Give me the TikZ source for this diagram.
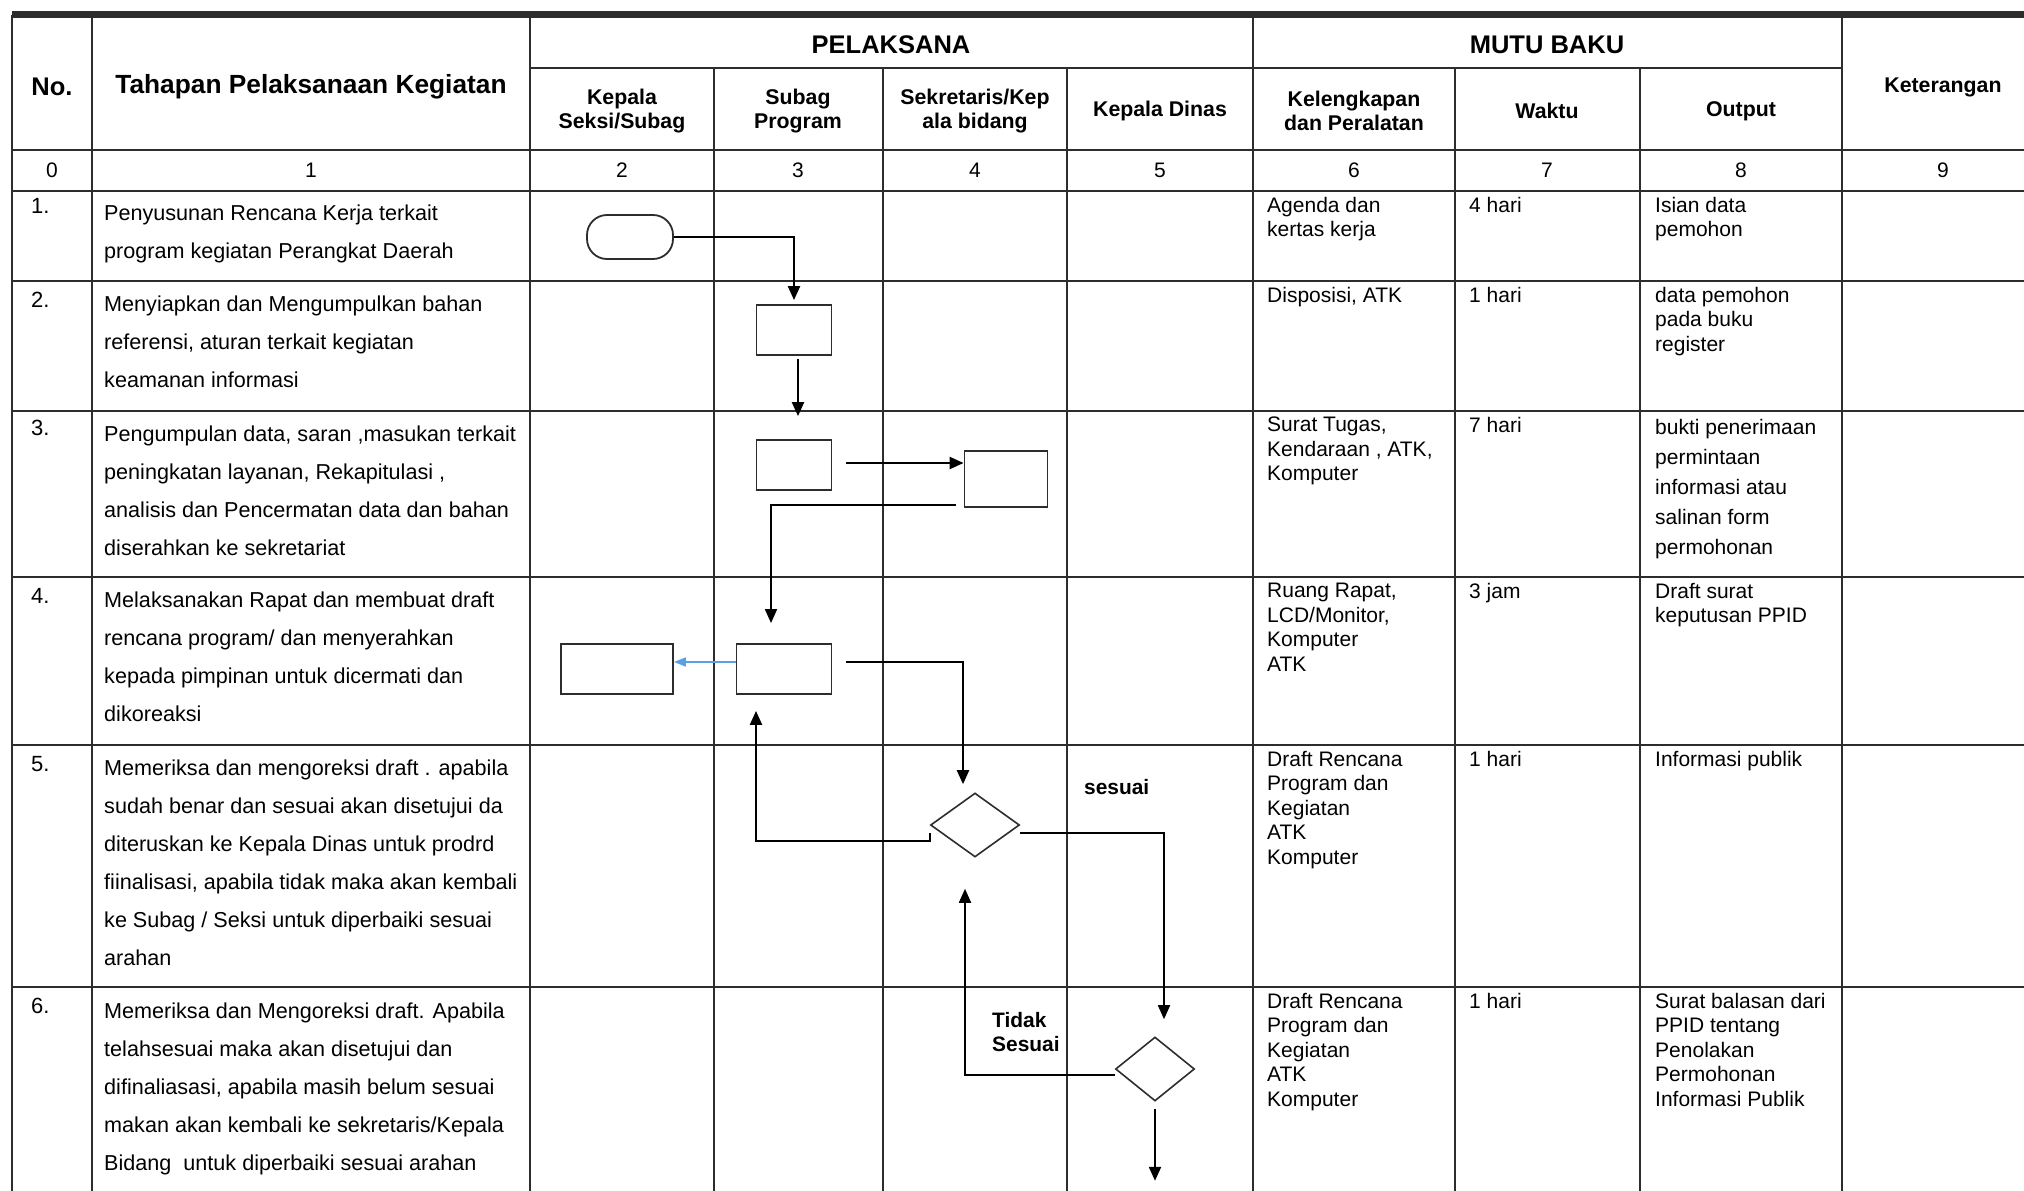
\documentclass[tikz,border=0pt]{standalone}
\usepackage{fontspec}
\setmainfont{Liberation Sans}
\usetikzlibrary{arrows.meta,shapes.geometric}
\definecolor{tinta}{RGB}{45,45,45}
\definecolor{biru}{RGB}{90,160,230}
\tikzset{
  garis/.style={draw=tinta, line width=1.6pt},
  judul/.style={font=\fontsize{25.5}{30}\selectfont\bfseries},
  subjudul/.style={font=\fontsize{21.3}{24}\selectfont\bfseries, align=center},
  angka/.style={font=\fontsize{21}{24}\selectfont},
  nomor/.style={anchor=base west, inner sep=0pt, font=\fontsize{22}{24}\selectfont},
  uraian/.style={anchor=north west, inner sep=0pt, align=left, font=\fontsize{21.6}{37.9}\selectfont},
  rincian/.style={anchor=north west, inner sep=0pt, align=left, font=\fontsize{21}{24.5}\selectfont},
  kotak/.style={draw=tinta, line width=1.8pt, inner sep=0pt, minimum height=50pt},
  terminal/.style={kotak, rounded corners=20pt, minimum width=86pt, minimum height=44pt},
  pilihan/.style={diamond, draw=tinta, line width=1.6pt, inner sep=0pt},
  alur/.style={draw=black, line width=2.2pt, -{Triangle[length=14pt,width=12pt]}},
  alurtipis/.style={alur, line width=1.8pt},
  cabang/.style={font=\fontsize{20.9}{24.5}\selectfont\bfseries, inner sep=0pt, align=left}
}
\begin{document}
\begin{tikzpicture}[x=1pt,y=-1pt]
\useasboundingbox (0,0) rectangle (2024,1191);
% tabel
\draw[tinta, line width=7pt] (12,14) -- (2024,14);
\draw[garis] (12,15) -- (12,1191) (92,15) -- (92,1191) (530,15) -- (530,1191)
  (1253,15) -- (1253,1191) (1842,15) -- (1842,1191);
\draw[garis] (714,68) -- (714,1191) (883,68) -- (883,1191) (1067,68) -- (1067,1191)
  (1455,68) -- (1455,1191) (1640,68) -- (1640,1191);
\draw[garis] (530,68) -- (1842,68);
\draw[garis] (12,150) -- (2024,150) (12,191) -- (2024,191) (12,281) -- (2024,281)
  (12,411) -- (2024,411) (12,577) -- (2024,577) (12,745) -- (2024,745) (12,987) -- (2024,987);

% kepala tabel
\node[judul] (hno) at (52,87) {No.};
\node[judul, font=\fontsize{26.3}{30}\selectfont\bfseries] (htahap) at (311,87) {Tahapan Pelaksanaan Kegiatan};
\node[judul] (hpel) at (891,45) {PELAKSANA};
\node[judul] (hmutu) at (1547,45) {MUTU BAKU};
\node[subjudul] (hkasi) at (622,111) {Kepala\\Seksi/Subag};
\node[subjudul] (hsubag) at (798,111) {Subag\\Program};
\node[subjudul] (hsekre) at (975,111) {Sekretaris/Kep\\ala bidang};
\node[subjudul] (hkadis) at (1160,111) {Kepala Dinas};
\node[subjudul] (hleng) at (1354,111) {Kelengkapan\\dan Peralatan};
\node[subjudul] (hwaktu) at (1547,111) {Waktu};
\node[subjudul] (hout) at (1741,111) {Output};
\node[subjudul] (hket) at (1943,87) {Keterangan};

\node[angka] (k0) at (52,170) {0};
\node[angka] (k1) at (311,170) {1};
\node[angka] (k2) at (622,170) {2};
\node[angka] (k3) at (798,170) {3};
\node[angka] (k4) at (975,170) {4};
\node[angka] (k5) at (1160,170) {5};
\node[angka] (k6) at (1354,170) {6};
\node[angka] (k7) at (1547,170) {7};
\node[angka] (k8) at (1741,170) {8};
\node[angka] (k9) at (1943,170) {9};

% nomor dan tahapan
\node[nomor] (n1) at (31,213) {1.};
\node[nomor] (n2) at (31,307) {2.};
\node[nomor] (n3) at (31,435) {3.};
\node[nomor] (n4) at (31,603) {4.};
\node[nomor] (n5) at (31,771) {5.};
\node[nomor] (n6) at (31,1013) {6.};

\node[uraian] (t1) at (104,205) {Penyusunan Rencana Kerja terkait\\program kegiatan Perangkat Daerah};
\node[uraian] (t2) at (104,296) {Menyiapkan dan Mengumpulkan bahan\\referensi, aturan terkait kegiatan\\keamanan informasi};
\node[uraian] (t3) at (104,426) {Pengumpulan data, saran ,masukan terkait\\peningkatan layanan, Rekapitulasi ,\\analisis dan Pencermatan data dan bahan\\diserahkan ke sekretariat};
\node[uraian] (t4) at (104,592) {Melaksanakan Rapat dan membuat draft\\rencana program/ dan menyerahkan\\kepada pimpinan untuk dicermati dan\\dikoreaksi};
\node[uraian] (t5) at (104,760) {Memeriksa dan mengoreksi draft . apabila\\sudah benar dan sesuai akan disetujui da\\diteruskan ke Kepala Dinas untuk prodrd\\fiinalisasi, apabila tidak maka akan kembali\\ke Subag / Seksi untuk diperbaiki sesuai\\arahan};
\node[uraian] (t6) at (104,1003) {Memeriksa dan Mengoreksi draft. Apabila\\telahsesuai maka akan disetujui dan\\difinaliasasi, apabila masih belum sesuai\\makan akan kembali ke sekretaris/Kepala\\Bidang\ \ untuk diperbaiki sesuai arahan};

% mutu baku
\node[rincian] (a1) at (1267,197) {Agenda dan\\kertas kerja};
\node[rincian] (a2) at (1267,287) {Disposisi, ATK};
\node[rincian] (a3) at (1267,417) {Surat Tugas,\\Kendaraan , ATK,\\Komputer};
\node[rincian] (a4) at (1267,583) {Ruang Rapat,\\LCD/Monitor,\\Komputer\\ATK};
\node[rincian] (a5) at (1267,751) {Draft Rencana\\Program dan\\Kegiatan\\ATK\\Komputer};
\node[rincian] (a6) at (1267,993) {Draft Rencana\\Program dan\\Kegiatan\\ATK\\Komputer};

\node[rincian] (w1) at (1469,197) {4 hari};
\node[rincian] (w2) at (1469,287) {1 hari};
\node[rincian] (w3) at (1469,417) {7 hari};
\node[rincian] (w4) at (1469,583) {3 jam};
\node[rincian] (w5) at (1469,751) {1 hari};
\node[rincian] (w6) at (1469,993) {1 hari};

\node[rincian] (o1) at (1655,197) {Isian data\\pemohon};
\node[rincian] (o2) at (1655,287) {data pemohon\\pada buku\\register};
\node[rincian, font=\fontsize{21}{30}\selectfont] (o3) at (1655,419) {bukti penerimaan\\permintaan\\informasi atau\\salinan form\\permohonan};
\node[rincian] (o4) at (1655,583) {Draft surat\\keputusan PPID};
\node[rincian] (o5) at (1655,751) {Informasi publik};
\node[rincian] (o6) at (1655,993) {Surat balasan dari\\PPID tentang\\Penolakan\\Permohonan\\Informasi Publik};

% bagan alir
\node[terminal] (mulai) at (630,237) {};
\node[kotak, minimum width=75pt] (susun) at (794,330) {};
\node[kotak, minimum width=75pt] (kumpul) at (794,465) {};
\node[kotak, minimum width=83pt, minimum height=56pt] (sekre) at (1006,479) {};
\node[kotak, minimum width=95pt] (rapat) at (784,669) {};
\node[kotak, minimum width=112pt] (pimpinan) at (617,669) {};
\node[pilihan, minimum width=89pt, minimum height=64pt] (periksa) at (975,825) {};
\node[pilihan, minimum width=79pt, minimum height=64pt] (final) at (1155,1069) {};

\draw[alur] (mulai.east) -| ([yshift=4pt]susun.north);
\draw[alur] ([xshift=4pt,yshift=-3pt]susun.south) -- ([xshift=4pt,yshift=23pt]kumpul.north);
\draw[alur] ([xshift=14pt,yshift=2pt]kumpul.east) -- ([yshift=2pt]kumpul.east -| sekre.west);
\draw[alurtipis] ([xshift=-8pt,yshift=3pt]sekre.south west) -| ([xshift=-13pt,yshift=20pt]rapat.north);
\draw[biru, line width=1.6pt, -{Triangle[length=12pt,width=9pt]}] ([yshift=7pt]rapat.west) -- ([yshift=7pt]pimpinan.east);
\draw[alur] ([xshift=14pt,yshift=7pt]rapat.east) -| ([xshift=-12pt,yshift=8pt]periksa.north);
\draw[alur] ([yshift=-8pt]periksa.west) -- ++(0,8) -| ([xshift=-28pt,yshift=-16pt]rapat.south);
\draw[alurtipis] ([yshift=-8pt]periksa.east) -| ([xshift=9pt,yshift=17pt]final.north);
\draw[alurtipis] ([yshift=-6pt]final.west) -| ([xshift=-10pt,yshift=-31pt]periksa.south);
\draw[alur] ([yshift=-7pt]final.south) -- ++(0,72);

\node[cabang, anchor=base west] (lsesuai) at (1084,794) {sesuai};
\node[cabang, anchor=north west] (ltidak) at (992,1012) {Tidak\\Sesuai};
\end{tikzpicture}
\end{document}
